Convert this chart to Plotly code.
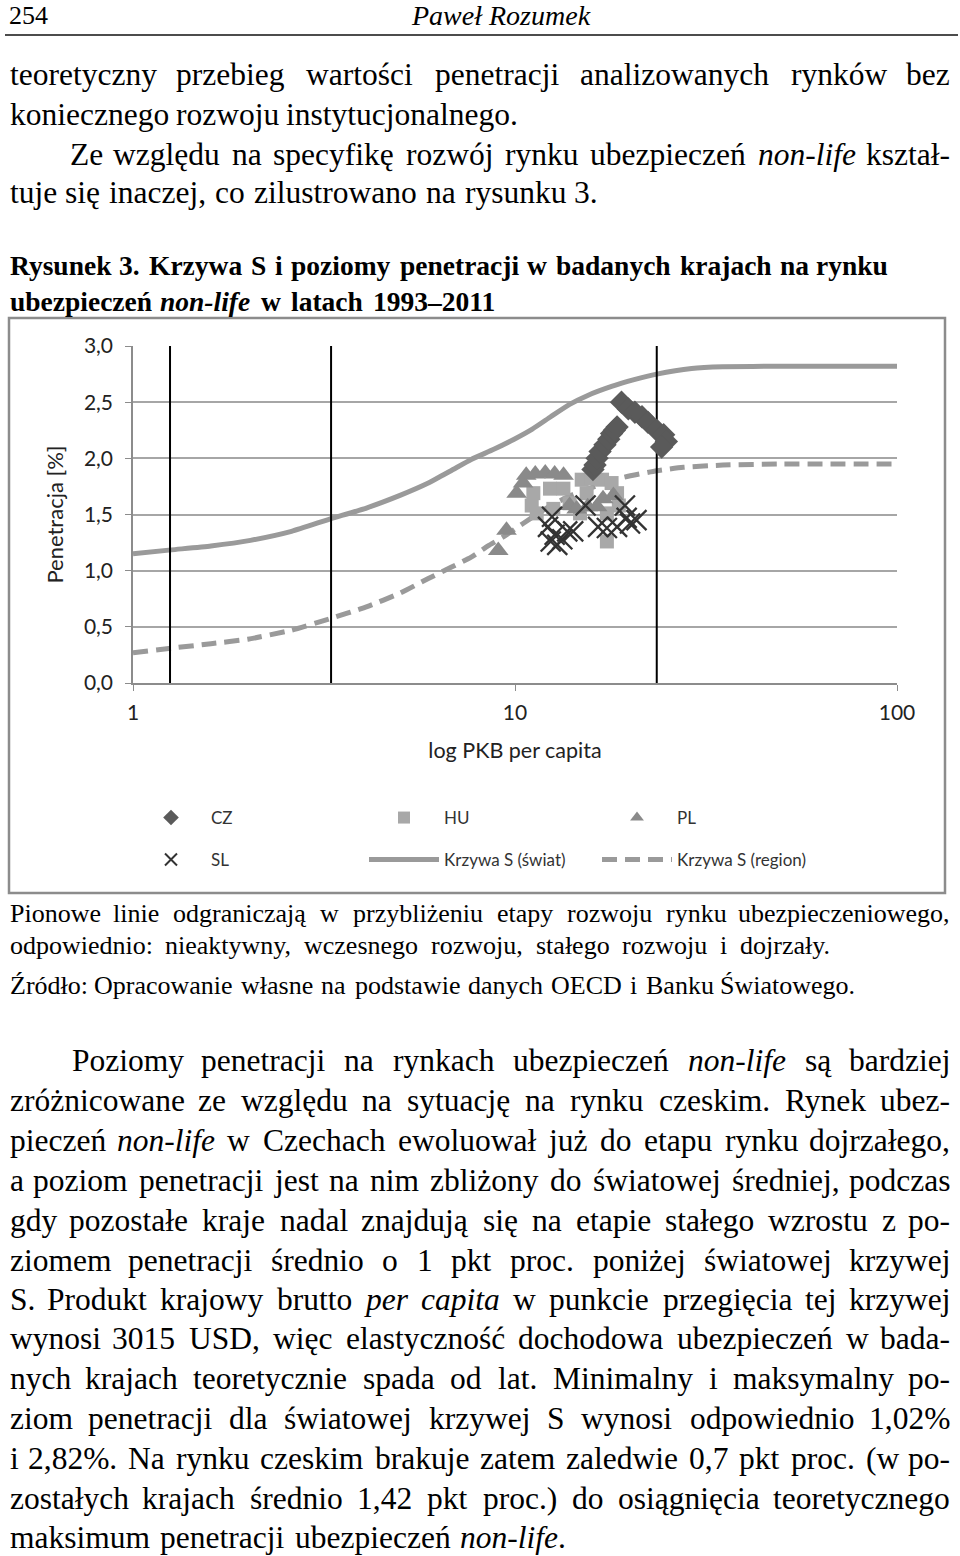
import unicodedata
import plotly.graph_objects as go

W, H = 960, 1556

# ---------------- chart data ----------------
stage_bounds = [1.25, 3.3, 23.5]

world_x = [1.0, 1.26, 1.6, 2.03, 2.6, 3.26, 4.1, 5.0, 5.93, 6.8, 7.68, 8.8, 9.95,
           11.1, 12.4, 13.9, 15.5, 17.9, 20.5, 23.5, 29.0, 35.0, 50.0, 70.0, 100.0]
world_y = [1.15, 1.185, 1.22, 1.27, 1.35, 1.457, 1.56, 1.67, 1.78, 1.89, 1.99, 2.08, 2.17,
           2.26, 2.37, 2.48, 2.56, 2.64, 2.70, 2.75, 2.80, 2.815, 2.82, 2.82, 2.82]

region_x = [1.0, 1.26, 1.6, 2.0, 2.6, 3.26, 4.1, 5.0, 5.93, 6.8, 7.68, 8.5, 9.32, 10.5,
            12.0, 14.0, 16.5, 19.2, 23.5, 27.6, 35.0, 50.0, 100.0]
region_y = [0.27, 0.31, 0.35, 0.39, 0.47, 0.57, 0.68, 0.80, 0.93, 1.03, 1.12, 1.22, 1.30, 1.42,
            1.55, 1.67, 1.76, 1.83, 1.89, 1.92, 1.94, 1.95, 1.95]

cz_x = [16.0, 16.2, 16.4, 16.7, 17.2, 17.6, 17.9, 18.2, 18.5, 19.0, 19.8, 20.6, 21.5, 22.3, 23.5, 24.5, 24.9, 24.2]
cz_y = [1.90, 1.94, 2.00, 2.06, 2.12, 2.17, 2.22, 2.25, 2.28, 2.50, 2.44, 2.41, 2.37, 2.32, 2.25, 2.21, 2.15, 2.10]

hu_x = [11.17, 11.06, 11.4, 12.35, 13.39, 12.6, 13.9, 14.95, 15.9, 16.9, 17.9, 18.5, 18.7, 17.4, 17.4, 15.4, 14.8]
hu_y = [1.69, 1.58, 1.51, 1.73, 1.73, 1.55, 1.60, 1.81, 1.82, 1.81, 1.78, 1.69, 1.58, 1.51, 1.26, 1.69, 1.51]

pl_x = [9.04, 9.5, 10.1, 10.5, 10.7, 11.3, 12.0, 12.7, 13.4, 13.9, 14.5, 15.5, 16.4, 17.0, 18.1]
pl_y = [1.18, 1.36, 1.69, 1.78, 1.85, 1.86, 1.87, 1.86, 1.85, 1.58, 1.55, 1.57, 1.57, 1.64, 1.67]

sl_x = [12.5, 12.2, 12.7, 12.9, 12.4, 13.3, 13.7, 14.2, 15.3, 16.5, 17.4, 18.5, 19.4, 19.6, 20.0, 20.8]
sl_y = [1.48, 1.39, 1.32, 1.23, 1.26, 1.28, 1.35, 1.35, 1.58, 1.39, 1.38, 1.39, 1.58, 1.47, 1.42, 1.45]

x_ticks = [1, 10, 100]
y_ticks = [0.0, 0.5, 1.0, 1.5, 2.0, 2.5, 3.0]

series_names = ["CZ", "HU", "PL", "SL", "Krzywa S (świat)", "Krzywa S (region)"]
x_title = "log PKB per capita"
y_title = "Penetracja [%]"

# ---------------- page texts ----------------
header_page = "254"
header_author = "<i>Paweł Rozumek</i>"

top_lines = [
    "teoretyczny przebieg wartości penetracji analizowanych rynków bez",
    "koniecznego rozwoju instytucjonalnego.",
    "Ze względu na specyfikę rozwój rynku ubezpieczeń <i>non-life</i> kształ-",
    "tuje się inaczej, co zilustrowano na rysunku 3.",
]
caption_lines = [
    "Rysunek 3. Krzywa S i poziomy penetracji w badanych krajach na rynku",
    "ubezpieczeń <i>non-life</i> w latach 1993–2011",
]
note_lines = [
    "Pionowe linie odgraniczają w przybliżeniu etapy rozwoju rynku ubezpieczeniowego,",
    "odpowiednio: nieaktywny, wczesnego rozwoju, stałego rozwoju i dojrzały.",
    "Źródło: Opracowanie własne na podstawie danych OECD i Banku Światowego.",
]
body_lines = [
    "Poziomy penetracji na rynkach ubezpieczeń <i>non-life</i> są bardziej",
    "zróżnicowane ze względu na sytuację na rynku czeskim. Rynek ubez-",
    "pieczeń <i>non-life</i> w Czechach ewoluował już do etapu rynku dojrzałego,",
    "a poziom penetracji jest na nim zbliżony do światowej średniej, podczas",
    "gdy pozostałe kraje nadal znajdują się na etapie stałego wzrostu z po-",
    "ziomem penetracji średnio o 1 pkt proc. poniżej światowej krzywej",
    "S. Produkt krajowy brutto <i>per</i> <i>capita</i> w punkcie przegięcia tej krzywej",
    "wynosi 3015 USD, więc elastyczność dochodowa ubezpieczeń w bada-",
    "nych krajach teoretycznie spada od lat. Minimalny i maksymalny po-",
    "ziom penetracji dla światowej krzywej S wynosi odpowiednio 1,02%",
    "i 2,82%. Na rynku czeskim brakuje zatem zaledwie 0,7 pkt proc. (w po-",
    "zostałych krajach średnio 1,42 pkt proc.) do osiągnięcia teoretycznego",
    "maksimum penetracji ubezpieczeń <i>non-life</i>.",
]

# ---------------- approximate Times metrics for layout of justified text ----------------
LOW = "abcdefghijklmnopqrstuvwxyz"
UPP = "ABCDEFGHIJKLMNOPQRSTUVWXYZ"
M = {
    "r": (dict(zip(LOW, [444,500,444,500,444,333,500,500,278,278,500,278,778,500,500,500,500,333,389,278,500,500,722,500,500,444])),
          dict(zip(UPP, [722,667,667,722,611,556,722,722,333,389,722,611,889,722,722,556,722,667,556,611,722,722,944,722,722,611]))),
    "i": (dict(zip(LOW, [500,500,444,500,444,278,500,500,278,278,444,278,722,500,500,500,500,389,389,278,500,444,667,444,444,389])),
          dict(zip(UPP, [611,611,667,722,611,611,722,722,333,444,667,556,833,667,722,611,722,611,500,556,722,611,833,611,556,556]))),
    "b": (dict(zip(LOW, [500,556,444,556,444,333,500,556,278,333,556,278,833,556,500,556,556,444,389,333,556,500,722,500,500,444])),
          dict(zip(UPP, [722,667,722,722,667,611,778,778,389,500,778,667,944,722,778,611,778,722,556,667,722,722,1000,722,722,667]))),
}
PUN = {" ": 250, ".": 250, ",": 250, ":": 278, "-": 333, "–": 500, "(": 333, ")": 333, "%": 833, ";": 278}
WIDTH_FIX = 1.0


def char_w(ch, style):
    if ch in "łŁ":
        ch = "l" if ch == "ł" else "L"
    base = unicodedata.normalize("NFD", ch)[0]
    low, up = M[style]
    if base in low:
        return low[base]
    if base in up:
        return up[base]
    if base.isdigit():
        return 500
    return PUN.get(base, 500)


def word_w(word, bold=False):
    total = 0
    ital = False
    i = 0
    while i < len(word):
        if word.startswith("<i>", i):
            ital = True
            i += 3
            continue
        if word.startswith("</i>", i):
            ital = False
            i += 4
            continue
        style = "b" if bold else ("i" if ital else "r")
        total += char_w(word[i], style)
        i += 1
    return total * WIDTH_FIX


annotations = []
TEXT_COLOR = "#000000"
SERIF = "Liberation Serif"


def px(x):
    return x / W


def py(y):
    return 1 - y / H


def justify(line, left, right, y, size, bold=False):
    words = line.split(" ")
    widths = [word_w(w, bold) * size / 1000.0 for w in words]
    n = len(words)
    gap = (right - left - sum(widths)) / (n - 1) if n > 1 else 0
    x = left
    for k, (w, ww) in enumerate(zip(words, widths)):
        txt = "<b>%s</b>" % w if bold else w
        if k == 0:
            xa, xp = "left", left
        elif k == n - 1:
            xa, xp = "right", right
        else:
            xa, xp = "center", x + ww / 2
        annotations.append(dict(text=txt, x=px(xp), y=py(y), xref="paper", yref="paper",
                                xanchor=xa, yanchor="middle", showarrow=False,
                                font=dict(family=SERIF, size=size, color=TEXT_COLOR)))
        x += ww + gap


def plain(text, x, y, size, xanchor="left"):
    annotations.append(dict(text=text, x=px(x), y=py(y), xref="paper", yref="paper",
                            xanchor=xanchor, yanchor="middle", showarrow=False,
                            font=dict(family=SERIF, size=size, color=TEXT_COLOR)))


# header
plain(header_page, 7, 16, 26)
plain(header_author, 501, 16, 28, xanchor="center")

# top paragraph
top_geom = [(8, 952, 75), (8, 520, 114), (68, 952, 154), (8, 600, 193)]
for line, (l, r, y) in zip(top_lines, top_geom):
    justify(line, l, r, y, 31.5)

# caption
cap_geom = [(8, 890, 265), (8, 497, 302)]
for line, (l, r, y) in zip(caption_lines, cap_geom):
    justify(line, l, r, y, 27.5, bold=True)

# notes below chart
note_geom = [(8, 952, 913), (8, 832, 945), (8, 857, 985)]
for line, (l, r, y) in zip(note_lines, note_geom):
    justify(line, l, r, y, 26)

# body paragraph
body_y = [1060, 1100, 1140, 1180, 1220, 1260, 1299, 1338, 1378, 1418, 1458, 1498, 1537]
for k, (line, y) in enumerate(zip(body_lines, body_y)):
    left = 70 if k == 0 else 8
    right = 568 if k == len(body_lines) - 1 else 952
    justify(line, left, right, y, 31.5)

# ---------------- chart ----------------
fig = go.Figure()

CURVE = "#9a9a9a"
fig.add_trace(go.Scatter(x=world_x, y=world_y, mode="lines", name=series_names[4],
                         line=dict(color=CURVE, width=5, shape="spline", smoothing=0.5),
                         legend="legend2", legendrank=2))
fig.add_trace(go.Scatter(x=region_x, y=region_y, mode="lines", name=series_names[5],
                         line=dict(color=CURVE, width=5, dash="15px,8px", shape="spline", smoothing=0.5),
                         legend="legend2", legendrank=3))

vx, vy = [], []
for b in stage_bounds:
    vx += [b, b, None]
    vy += [-0.06, 3.0, None]
fig.add_trace(go.Scatter(x=vx, y=vy, mode="lines", line=dict(color="black", width=2),
                         showlegend=False, hoverinfo="skip", cliponaxis=False))

fig.add_trace(go.Scatter(x=hu_x, y=hu_y, mode="markers", name=series_names[1],
                         marker=dict(symbol="square", size=14, color="#a8a8a8"),
                         legend="legend", legendrank=2))
fig.add_trace(go.Scatter(x=pl_x, y=pl_y, mode="markers", name=series_names[2],
                         marker=dict(symbol="triangle-up", size=18, color="#8a8a8a"),
                         legend="legend", legendrank=3))
fig.add_trace(go.Scatter(x=cz_x, y=cz_y, mode="markers", name=series_names[0],
                         marker=dict(symbol="diamond", size=18, color="#5a5a5a"),
                         legend="legend", legendrank=1))
fig.add_trace(go.Scatter(x=sl_x, y=sl_y, mode="markers", name=series_names[3],
                         marker=dict(symbol="x-thin-open", size=20, color="#333333",
                                     line=dict(width=2.3, color="#333333")),
                         legend="legend2", legendrank=1))

CHART_FONT = "Lato"
AX = "#8c8c8c"

x_dom = [133 / W, 897 / W]
y_dom = [1 - 683 / H, 1 - 346 / H]

legend_common = dict(orientation="h", entrywidth=148, entrywidthmode="pixels",
                     itemsizing="constant", itemwidth=70, bgcolor="rgba(0,0,0,0)",
                     font=dict(family=CHART_FONT, size=17, color="#333333"),
                     xanchor="left", yanchor="middle", traceorder="normal")

fig.update_layout(
    width=W, height=H, autosize=False,
    margin=dict(l=0, r=0, t=0, b=0, pad=0, autoexpand=False),
    paper_bgcolor="white", plot_bgcolor="white",
    separators=", ",
    showlegend=True,
    legend=dict(x=131 / W, y=py(818), **legend_common),
    legend2=dict(x=131 / W, y=py(860), **legend_common),
    xaxis=dict(type="log", range=[0, 2], domain=x_dom, tickvals=x_ticks,
               ticktext=[str(v) for v in x_ticks], showgrid=False,
               showline=True, linecolor=AX, linewidth=1.5, ticks="outside",
               ticklen=6, tickcolor=AX, zeroline=False, automargin=False,
               ticklabelstandoff=4,
               tickfont=dict(family=CHART_FONT, size=21, color="#222222"),
               title=dict(text=x_title, standoff=20,
                          font=dict(family=CHART_FONT, size=21.5, color="#222222"))),
    yaxis=dict(range=[0, 3], domain=y_dom, tickvals=y_ticks, tickformat=".1f",
               showgrid=True, gridcolor="#a6a6a6", gridwidth=1.5,
               showline=True, linecolor=AX, linewidth=1.5, ticks="outside",
               ticklen=6, tickcolor=AX, zeroline=False, ticklabelstandoff=8, automargin=False,
               tickfont=dict(family=CHART_FONT, size=21, color="#222222"),
               title=dict(text=y_title, standoff=14,
                          font=dict(family=CHART_FONT, size=22, color="#222222"))),
    annotations=annotations,
    shapes=[
        dict(type="line", xref="paper", yref="paper", x0=px(5), x1=px(958), y0=py(35), y1=py(35),
             line=dict(color="#111111", width=1.5)),
        dict(type="rect", xref="paper", yref="paper", x0=px(9), x1=px(945), y0=py(893), y1=py(318),
             line=dict(color="#8c8c8c", width=2.5), layer="below"),
    ],
)

fig.write_html("out.html",
               post_script="document.body.style.margin='0px';"
                           "document.documentElement.style.overflow='hidden';")
